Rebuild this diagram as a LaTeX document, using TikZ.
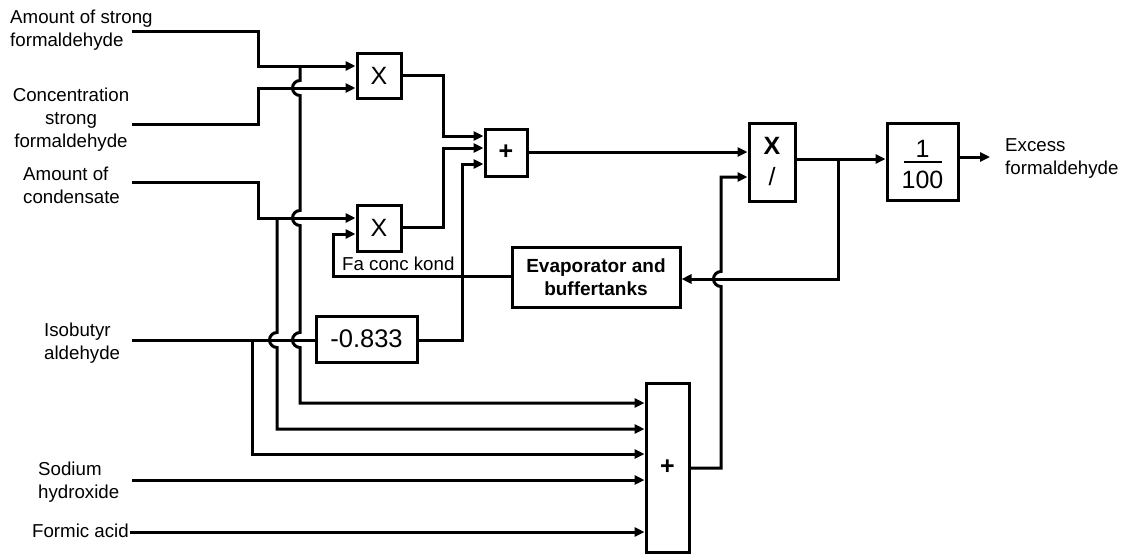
\documentclass[tikz,border=0pt]{standalone}
\usepackage{fontspec}
\setmainfont{Liberation Sans}
\usetikzlibrary{arrows.meta}
\newcommand{\lstrut}{\rule[-6pt]{0pt}{23pt}}
\begin{document}
\begin{tikzpicture}[x=1pt,y=-1pt,
  wire/.style={line width=3pt},
  arr/.style={wire,-{Triangle[length=10pt,width=9pt]}},
  blk/.style={draw,line width=3pt,inner sep=0pt,fill=white},
  lbl/.style={inner sep=0pt,font=\fontsize{18.7}{23}\selectfont},
  big/.style={font=\fontsize{25}{28}\selectfont},
]
\useasboundingbox (0,0) rectangle (1127,554);

% blocks
\node[blk,big,minimum width=44pt,minimum height=45pt] (m1) at (379,75.5) {X};
\node[blk,big,minimum width=44pt,minimum height=46pt] (m2) at (379,228) {X};
\node[blk,big,minimum width=42pt,minimum height=47pt] (s1) at (506,152.5) {\textbf{+}};
\node[blk,font=\fontsize{25.5}{30}\selectfont,minimum width=101pt,minimum height=46pt] (k) at (366.5,339) {-0.833};
\node[blk,align=center,font=\fontsize{19}{23}\selectfont\bfseries,minimum width=168pt,minimum height=60pt] (evap) at (596,277) {Evaporator and\\buffertanks};
\node[blk,align=center,font=\fontsize{25}{31}\selectfont,minimum width=46pt,minimum height=78pt] (md) at (772,162) {\textbf{X}\\/};
\node[blk,minimum width=71pt,minimum height=77pt] (div) at (922.5,161.5) {};
\node[big,inner sep=0pt,anchor=base] (num) at (922.5,157) {1};
\node[big,inner sep=0pt,anchor=base] (den) at (922.5,188) {100};
\draw[line width=2.6pt] (904,162) -- (942,162);
\node[blk,big,minimum width=43pt,minimum height=169pt] (s2) at (667.5,467.5) {\textbf{+}};

% labels
\node[lbl,anchor=north west,align=left] (lA) at (10,6) {\lstrut Amount of strong\\\lstrut formaldehyde};
\node[lbl,anchor=north,align=center] (lB) at (71,84) {\lstrut Concentration\\\lstrut strong\\\lstrut formaldehyde};
\node[lbl,anchor=north west,align=left] (lC) at (23,163) {\lstrut Amount of\\\lstrut condensate};
\node[lbl,anchor=north west,align=left] (lD) at (44,319) {\lstrut Isobutyr\\\lstrut aldehyde};
\node[lbl,anchor=north west,align=left] (lE) at (38,458) {\lstrut Sodium\\\lstrut hydroxide};
\node[lbl,anchor=base east] (lF) at (129,537) {Formic acid};
\node[lbl,anchor=north west,align=left] (lG) at (1005,134) {\lstrut Excess\\\lstrut formaldehyde};
\node[lbl,anchor=base west] (lH) at (342,270) {Fa conc kond};

% free ends and junctions
\coordinate (iA) at (132,31);
\coordinate (iB) at (132,124);
\coordinate (iC) at (132,182);
\coordinate (iD) at (132,340);
\coordinate (iE) at (132,480);
\coordinate (iF) at (130,532);
\coordinate (out) at (990,157);
\coordinate (jA) at (300,66);
\coordinate (jC) at (277,218);
\coordinate (jD) at (252,340);
\coordinate (jO) at (838,159);

% wires
\draw[arr] (iA) -- (258,31) -- (258,66) -- (m1.west |- jA);
\draw[arr] (iB) -- (258,124) -- (258,88) -- (m1.west |- 0,88);
\draw[arr] (iC) -- (258,182) -- (258,218) -- (m2.west |- jC);
\draw[arr] (evap.west |- 0,276) -- (333,276) -- (333,234) -- (m2.west |- 0,234);
\draw[wire] (iD) -- (k.west |- jD);
\draw[arr] (jA) -- (300,80.5) arc[start angle=270,end angle=90,radius=7.5]
  -- (300,210.5) arc[start angle=270,end angle=90,radius=7.5]
  -- (300,332.5) arc[start angle=270,end angle=90,radius=7.5]
  -- (300,403) -- (s2.west |- 0,403);
\draw[arr] (jC) -- (277,332.5) arc[start angle=270,end angle=90,radius=7.5]
  -- (277,429) -- (s2.west |- 0,429);
\draw[arr] (jD) -- (252,454) -- (s2.west |- 0,454);
\draw[arr] (iE) -- (s2.west |- iE);
\draw[arr] (iF) -- (s2.west |- iF);
\draw[arr] (m1.east |- 0,75) -- (443,75) -- (443,136) -- (s1.west |- 0,136);
\draw[arr] (m2.east |- 0,227) -- (443,227) -- (443,148) -- (s1.west |- 0,148);
\draw[arr] (k.east |- 0,340) -- (462,340) -- (462,164) -- (s1.west |- 0,164);
\draw[arr] (s1.east |- 0,152) -- (md.west |- 0,152);
\draw[arr] (s2.east |- 0,468) -- (721,468) -- (721,286.5)
  arc[start angle=90,end angle=270,radius=7.5] -- (721,177) -- (md.west |- 0,177);
\draw[arr] (md.east |- jO) -- (div.west |- jO);
\draw[arr] (jO) -- (838,279) -- (evap.east |- 0,279);
\draw[arr] (div.east |- out) -- (out);
\end{tikzpicture}
\end{document}
